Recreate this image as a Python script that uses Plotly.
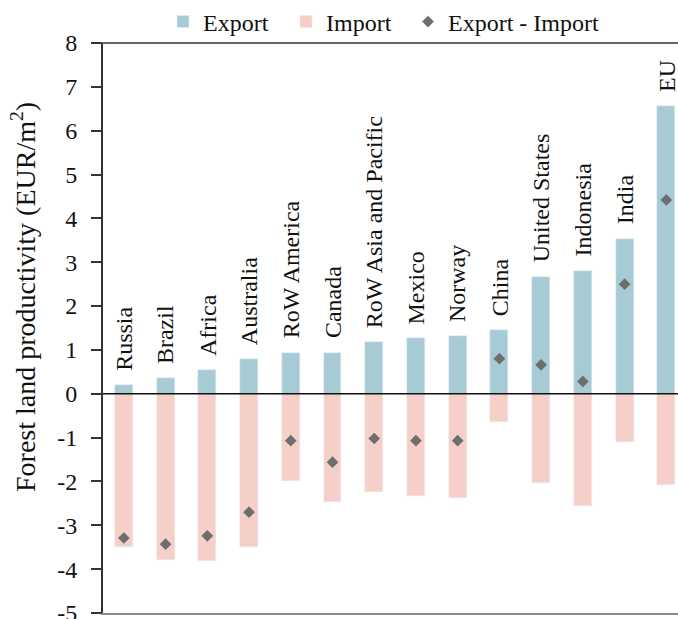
import plotly.graph_objects as go

categories = ["Russia", "Brazil", "Africa", "Australia", "RoW America", "Canada",
              "RoW Asia and Pacific", "Mexico", "Norway", "China", "United States",
              "Indonesia", "India", "EU"]
export_vals = [0.20, 0.36, 0.55, 0.79, 0.94, 0.94, 1.18, 1.27, 1.32, 1.46, 2.67, 2.81, 3.54, 6.57]
import_vals = [-3.49, -3.78, -3.82, -3.49, -1.99, -2.47, -2.24, -2.34, -2.38, -0.65, -2.04, -2.57, -1.09, -2.09]
net_vals = [-3.29, -3.43, -3.24, -2.70, -1.07, -1.56, -1.02, -1.07, -1.07, 0.80, 0.66, 0.28, 2.50, 4.42]
tick_vals = [-5, -4, -3, -2, -1, 0, 1, 2, 3, 4, 5, 6, 7, 8]
tick_text = ["-5", "-4", "-3", "-2", "-1", "0", "1", "2", "3", "4", "5", "6", "7", "8"]
y_title = "Forest land productivity (EUR/m<sup>2</sup>)"

FONT = "Liberation Serif, Times New Roman, serif"
EXPORT_C = "#A7CBD4"
IMPORT_C = "#F6D0C8"
NET_C = "#6E6E6E"

x_idx = list(range(len(categories)))

fig = go.Figure()
fig.add_trace(go.Bar(x=x_idx, y=export_vals, name="Export", marker_color=EXPORT_C,
                     width=0.43, legend="legend", hovertext=categories))
fig.add_trace(go.Bar(x=x_idx, y=import_vals, name="Import", marker_color=IMPORT_C,
                     width=0.43, legend="legend2", hovertext=categories))
fig.add_trace(go.Scatter(x=x_idx, y=net_vals, name="Export - Import", mode="markers",
                         marker=dict(symbol="diamond", size=9, color=NET_C),
                         legend="legend3", hovertext=categories))

for i, (c, v) in enumerate(zip(categories, export_vals)):
    fig.add_annotation(x=i, y=v, text=c, textangle=-90, showarrow=False,
                       xanchor="center", yanchor="bottom", yshift=12,
                       font=dict(family=FONT, size=24, color="#111"))

# y-axis title (placed as rotated text, slightly above the axis centre as in the reference)
fig.add_annotation(xref="paper", yref="paper", x=-80 / 575, y=(613 - 297) / 570,
                   text=y_title, textangle=-90, showarrow=False,
                   xanchor="center", yanchor="middle",
                   font=dict(family=FONT, size=28, color="#111"))

# zero line and top frame line
fig.add_shape(type="line", xref="paper", yref="y", x0=0, x1=1, y0=0, y1=0,
              line=dict(color="#111", width=1.5), layer="above")
fig.add_shape(type="line", xref="paper", yref="paper", x0=-0.017, x1=1, y0=1, y1=1,
              line=dict(color="#333", width=1.5), layer="above")

leg_common = dict(orientation="h", xref="container", yref="container",
                  xanchor="left", yanchor="middle", y=1 - 22 / 619,
                  font=dict(family=FONT, size=24, color="#111"),
                  bgcolor="rgba(0,0,0,0)", itemwidth=30)

fig.update_layout(
    width=678, height=619,
    margin=dict(l=103, r=0, t=43, b=6, autoexpand=False),
    plot_bgcolor="white", paper_bgcolor="white",
    barmode="overlay", bargap=0,
    font=dict(family=FONT, size=24, color="#111"),
    showlegend=True,
    legend=dict(x=163 / 678, **leg_common),
    legend2=dict(x=286 / 678, **leg_common),
    legend3=dict(x=408 / 678, **leg_common),
    xaxis=dict(range=[-0.5, 13.28], showticklabels=False, ticks="", showgrid=False,
               zeroline=False, showline=True, linecolor="#888", linewidth=2,
               automargin=False),
    yaxis=dict(range=[-5, 8], tickvals=tick_vals, ticktext=tick_text, showgrid=False,
               zeroline=False, showline=True, linecolor="#333", linewidth=2,
               ticks="outside", ticklen=10, tickwidth=1.5, tickcolor="#333",
               ticklabelstandoff=9, ticklabeloverflow="allow", automargin=False,
               tickfont=dict(family=FONT, size=24, color="#111")),
)

fig.write_html("out.html")
